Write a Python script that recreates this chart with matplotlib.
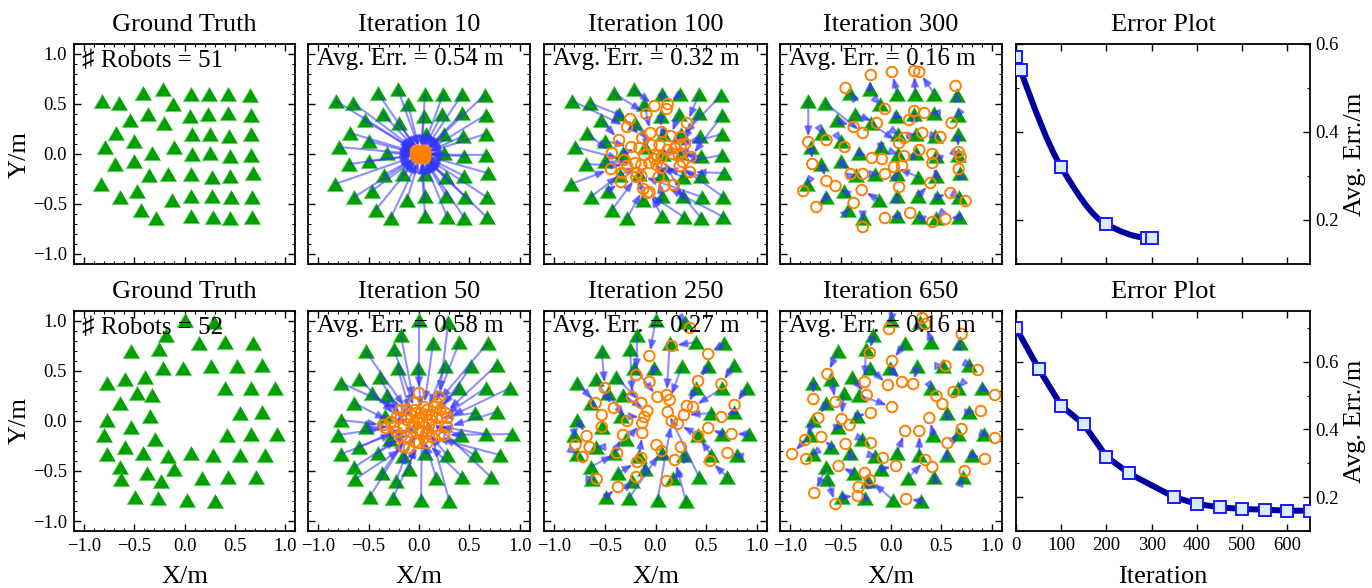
import numpy as np
import matplotlib
matplotlib.use("Agg")
import matplotlib.pyplot as plt
from matplotlib.path import Path
from matplotlib.patches import PathPatch, FancyArrowPatch
from matplotlib.ticker import MultipleLocator, FixedLocator

plt.rcParams['font.family'] = ['Liberation Serif', 'DejaVu Sans']
plt.rcParams['axes.unicode_minus'] = True

# ---------------- data ----------------
# scenario A: 51 robots, ground truth positions (m)
gt1_x = [-0.82, -0.65, -0.41, -0.21, -0.11, 0.06, 0.24, 0.43, 0.65,
         -0.54, -0.36, -0.20, 0.05, 0.23, 0.43, 0.66,
         -0.68, -0.50, 0.07, 0.25, 0.44, 0.66,
         -0.79, -0.32, -0.10, 0.07, 0.25, 0.45, 0.66,
         -0.69, -0.50, -0.35, -0.16, 0.06, 0.27, 0.45, 0.68,
         -0.83, -0.64, -0.47, -0.12, 0.06, 0.27, 0.46, 0.67,
         -0.43, -0.28, 0.06, 0.28, 0.45, 0.67]
gt1_y = [0.53, 0.51, 0.61, 0.65, 0.50, 0.60, 0.60, 0.60, 0.59,
         0.34, 0.40, 0.31, 0.38, 0.40, 0.41, 0.39,
         0.21, 0.13, 0.20, 0.20, 0.18, 0.20,
         0.07, 0.01, 0.07, 0.00, 0.01, -0.02, -0.01,
         -0.10, -0.07, -0.21, -0.20, -0.20, -0.23, -0.22, -0.19,
         -0.30, -0.43, -0.37, -0.46, -0.42, -0.42, -0.43, -0.43,
         -0.56, -0.64, -0.62, -0.63, -0.64, -0.63]

# estimates after 10 iterations
it10_x = [-0.03, -0.02, -0.01, 0.01, 0.01, 0.02, 0.03, 0.05, 0.06,
          -0.01, 0.00, 0.01, 0.02, 0.03, 0.05, 0.06,
          -0.02, -0.01, 0.02, 0.04, 0.05, 0.06,
          -0.03, 0.00, 0.01, 0.02, 0.04, 0.05, 0.06,
          -0.02, -0.01, 0.00, 0.01, 0.02, 0.04, 0.05, 0.06,
          -0.03, -0.02, -0.01, 0.01, 0.02, 0.04, 0.05, 0.06,
          -0.01, 0.00, 0.02, 0.04, 0.05, 0.06]
it10_y = [0.03, 0.03, 0.03, 0.03, 0.025, 0.03, 0.03, 0.03, 0.03,
          0.015, 0.02, 0.015, 0.02, 0.02, 0.02, 0.02,
          0.01, 0.00, 0.01, 0.01, 0.005, 0.01,
          0.00, -0.005, 0.00, -0.005, -0.005, -0.005, -0.005,
          -0.01, -0.01, -0.02, -0.02, -0.02, -0.02, -0.02, -0.015,
          -0.02, -0.03, -0.03, -0.03, -0.03, -0.03, -0.03, -0.03,
          -0.04, -0.04, -0.04, -0.04, -0.04, -0.04]

# estimates after 100 iterations
it100_x = [-0.28, -0.25, -0.09, -0.01, -0.05, 0.11, 0.12, 0.31, 0.25,
           -0.36, -0.13, -0.04, 0.06, 0.15, 0.25, 0.35,
           -0.43, -0.24, 0.04, 0.12, 0.19, 0.29,
           -0.31, -0.16, -0.11, 0.02, 0.17, 0.23, 0.27,
           -0.28, -0.20, -0.14, -0.06, -0.01, 0.01, 0.06, 0.34,
           -0.44, -0.33, -0.34, -0.18, 0.03, 0.06, -0.14, 0.24,
           -0.19, -0.12, -0.06, -0.08, 0.18, 0.09]
it100_y = [0.27, 0.35, 0.40, 0.48, 0.21, 0.45, 0.50, 0.31, 0.17,
           0.14, 0.16, 0.09, 0.22, 0.18, 0.09, -0.03,
           0.01, 0.07, 0.09, 0.04, 0.06, 0.10,
           -0.06, 0.06, -0.01, -0.02, 0.00, -0.01, -0.08,
           -0.12, -0.09, -0.11, -0.09, -0.05, -0.11, -0.14, -0.18,
           -0.15, -0.19, -0.28, -0.19, -0.23, -0.03, -0.22, -0.12,
           -0.23, -0.35, -0.38, -0.39, -0.31, -0.32]

# estimates after 300 iterations
it300_x = [-0.82, -0.28, -0.45, -0.20, -0.06, 0.01, 0.23, 0.28, 0.64,
           -0.37, -0.14, 0.08, 0.18, 0.23, 0.33, 0.60,
           -0.64, -0.46, 0.13, 0.31, 0.49, 0.67,
           -0.78, -0.19, -0.09, 0.13, 0.28, 0.41, 0.69,
           -0.64, -0.40, -0.28, -0.06, 0.11, 0.03, 0.41, 0.67,
           -0.87, -0.74, -0.55, -0.29, 0.08, 0.39, 0.59, 0.74,
           -0.37, -0.28, -0.06, 0.19, 0.41, 0.54]
it300_y = [0.12, 0.21, 0.66, 0.79, 0.45, 0.82, 0.83, 0.82, 0.68,
           0.27, 0.31, 0.11, 0.34, 0.43, 0.41, 0.31,
           0.14, 0.07, 0.16, 0.21, 0.17, 0.02,
           -0.10, -0.04, -0.05, -0.02, 0.04, 0.00, -0.03,
           -0.27, -0.20, -0.20, -0.20, -0.12, -0.13, -0.09, -0.15,
           -0.37, -0.53, -0.32, -0.36, -0.33, -0.29, -0.39, -0.47,
           -0.49, -0.73, -0.64, -0.59, -0.68, -0.65]

# scenario B: 52 robots, ground truth positions (m)
gt2_x = [0.00, 0.29, -0.18, 0.14, 0.40, 0.68, -0.53, -0.25,
         -0.21, -0.01, 0.26, 0.52, 0.77,
         -0.77, -0.59, -0.39, -0.47, -0.32, 0.40, 0.66, 0.90,
         -0.64, -0.34, 0.55, 0.77,
         -0.77, -0.53, -0.80, -0.29, 0.42, 0.66, 0.92,
         -0.59, -0.77, -0.41, -0.16, 0.06, 0.28, 0.55, 0.80,
         -0.64, -0.37, -0.10, -0.23, -0.63, 0.17, 0.43, 0.71,
         -0.49, -0.26, 0.02, 0.30]
gt2_y = [1.01, 0.99, 0.86, 0.78, 0.79, 0.78, 0.70, 0.72,
         0.53, 0.53, 0.55, 0.55, 0.56,
         0.38, 0.42, 0.44, 0.28, 0.26, 0.33, 0.33, 0.33,
         0.18, 0.05, 0.08, 0.09,
         0.01, -0.06, -0.14, -0.18, -0.14, -0.13, -0.13,
         -0.26, -0.33, -0.32, -0.35, -0.32, -0.34, -0.34, -0.34,
         -0.46, -0.52, -0.48, -0.60, -0.58, -0.57, -0.56, -0.56,
         -0.76, -0.77, -0.79, -0.80]

# estimates after 50 iterations
it50_x = [0.00, 0.20, -0.05, 0.05, 0.15, 0.18, -0.12, -0.04,
          -0.08, 0.02, 0.08, 0.21, 0.26,
          -0.18, -0.22, -0.18, -0.12, -0.02, 0.13, 0.23, 0.28,
          -0.28, -0.05, 0.18, 0.28,
          -0.35, -0.25, -0.33, -0.07, 0.10, 0.16, 0.25,
          -0.15, -0.22, -0.08, 0.00, 0.03, 0.08, 0.20, 0.13,
          -0.18, -0.12, -0.04, -0.10, -0.15, 0.05, 0.08, 0.12,
          0.00, 0.00, 0.03, 0.07]
it50_y = [0.28, 0.24, 0.18, 0.14, 0.14, 0.18, 0.11, 0.11,
          0.06, 0.08, 0.11, 0.11, 0.08,
          0.11, 0.04, 0.03, 0.01, 0.01, 0.06, 0.04, 0.03,
          -0.01, -0.02, 0.03, -0.06,
          -0.04, -0.06, -0.07, -0.06, -0.04, -0.05, -0.14,
          -0.06, -0.11, -0.11, -0.09, -0.11, -0.11, -0.14, -0.16,
          -0.16, -0.16, -0.21, -0.27, -0.26, -0.17, -0.22, 0.01,
          0.03, -0.22, -0.02, 0.06]

# estimates after 250 iterations
it250_x = [-0.06, 0.34, -0.19, 0.11, 0.16, 0.52, -0.50, -0.23,
           0.02, -0.06, 0.14, 0.42, 0.65,
           -0.59, -0.41, -0.14, -0.28, -0.08, 0.31, 0.37, 0.78,
           -0.53, -0.11, 0.28, 0.65,
           -0.68, -0.53, -0.79, -0.13, 0.22, 0.52, 0.75,
           -0.65, -0.72, -0.32, -0.13, 0.01, 0.25, 0.42, 0.71,
           -0.38, -0.18, -0.14, -0.19, -0.58, 0.11, 0.12, 0.54,
           -0.37, 0.06, 0.16, 0.19]
it250_y = [0.65, 0.93, 0.46, 0.26, 0.75, 0.67, 0.33, 0.24,
           0.24, 0.39, 0.21, 0.40, 0.37,
           0.18, 0.13, 0.18, 0.00, 0.10, 0.15, 0.14, 0.16,
           0.06, 0.04, 0.06, 0.04,
           -0.15, -0.06, -0.24, -0.02, -0.03, -0.07, -0.13,
           -0.26, -0.36, -0.14, -0.12, -0.24, -0.26, -0.15, -0.32,
           -0.32, -0.41, -0.37, -0.56, -0.58, -0.60, 0.09, -0.40,
           -0.66, -0.30, 0.00, -0.39]

# estimates after 650 iterations
it650_x = [-0.02, 0.31, -0.21, 0.01, 0.34, 0.70, -0.63, -0.26,
           -0.03, 0.11, 0.22, 0.54, 0.86,
           -0.77, -0.55, -0.24, -0.49, 0.01, 0.45, 0.62, 1.03,
           -0.72, -0.20, 0.51, 0.89,
           -0.85, -0.41, -0.98, -0.20, 0.38, 0.70, 1.03,
           -0.69, -0.84, -0.45, -0.08, 0.14, 0.28, 0.56, 0.93,
           -0.76, -0.52, 0.05, -0.26, -0.55, 0.34, 0.41, 0.73,
           -0.33, -0.32, -0.21, 0.15]
it650_y = [0.92, 1.03, 0.68, 0.60, 0.97, 0.87, 0.47, 0.39,
           0.36, 0.39, 0.37, 0.55, 0.51,
           0.22, 0.19, 0.26, 0.02, 0.14, 0.25, 0.29, 0.26,
           0.03, 0.08, 0.17, 0.10,
           -0.19, -0.04, -0.33, -0.22, 0.03, -0.08, -0.17,
           -0.16, -0.38, -0.23, -0.37, -0.10, -0.10, -0.22, -0.38,
           -0.72, -0.45, -0.45, -0.52, -0.83, -0.39, -0.46, -0.50,
           -0.75, -0.66, -0.59, -0.78]

# average localisation error versus iteration
err1_iter = [0, 10, 100, 200, 290, 300]
err1_val = [0.57, 0.54, 0.32, 0.19, 0.16, 0.16]
err2_iter = [0, 50, 100, 150, 200, 250, 350, 400, 450, 500, 550, 600, 650]
err2_val = [0.70, 0.58, 0.47, 0.415, 0.32, 0.27, 0.20, 0.18, 0.17, 0.165, 0.163, 0.16, 0.16]

scenarios = [
    dict(gx=gt1_x, gy=gt1_y, iters=[10, 100, 300],
         est=[(it10_x, it10_y), (it100_x, it100_y), (it300_x, it300_y)],
         err_iter=err1_iter, err_val=err1_val, ylim=(0.1, 0.6), smooth=True),
    dict(gx=gt2_x, gy=gt2_y, iters=[50, 250, 650],
         est=[(it50_x, it50_y), (it250_x, it250_y), (it650_x, it650_y)],
         err_iter=err2_iter, err_val=err2_val, ylim=(0.1, 0.75), smooth=False),
]

# ---------------- style ----------------
GREEN = '#00a000'
GREEN_EDGE = '#74d074'
ORANGE = '#ff8000'
ARROW = '#3535ff'
NAVY = '#00009a'
SQ_FACE = '#dcebff'
SQ_EDGE = '#1a1aff'
TRI = [(0.0, 0.433), (-0.5, -0.433), (0.5, -0.433)]

W, H = 1372, 588
fig = plt.figure(figsize=(W / 100, H / 100), dpi=100)

col_left = [74, 308, 544, 780]
col_width = [221, 222, 223, 222]
err_left, err_width = 1016, 294
row_top = [44, 311]
panel_h = 220


def add_ax(left, top, width, height):
    return fig.add_axes([left / W, 1 - (top + height) / H, width / W, height / H])


def frame(ax):
    for s in ax.spines.values():
        s.set_linewidth(1.3)
    ax.tick_params(which='both', direction='in', top=True, right=True,
                   bottom=True, left=True, labelsize=13.5, pad=5)
    ax.tick_params(which='major', length=5, width=1.0)
    ax.tick_params(which='minor', length=2.5, width=0.8)


def smooth_path(x, y):
    x = np.asarray(x, float)
    y = np.asarray(y, float)
    h = np.diff(x)
    d = np.diff(y) / h
    m = np.empty_like(y)
    m[0], m[-1] = d[0], d[-1]
    for i in range(1, len(y) - 1):
        if d[i - 1] * d[i] <= 0:
            m[i] = 0.0
        else:
            w1, w2 = 2 * h[i] + h[i - 1], h[i] + 2 * h[i - 1]
            m[i] = (w1 + w2) / (w1 / d[i - 1] + w2 / d[i])
    verts = [(x[0], y[0])]
    codes = [Path.MOVETO]
    for i in range(len(x) - 1):
        verts += [(x[i] + h[i] / 3, y[i] + m[i] * h[i] / 3),
                  (x[i + 1] - h[i] / 3, y[i + 1] - m[i + 1] * h[i] / 3),
                  (x[i + 1], y[i + 1])]
        codes += [Path.CURVE4] * 3
    return Path(verts, codes)


for r, sc in enumerate(scenarios):
    err_lookup = dict(zip(sc['err_iter'], sc['err_val']))
    titles = ['Ground Truth'] + [f'Iteration {it}' for it in sc['iters']]
    for c in range(4):
        ax = add_ax(col_left[c], row_top[r], col_width[c], panel_h)
        ax.set_xlim(-1.1, 1.1)
        ax.set_ylim(-1.1, 1.1)
        ax.xaxis.set_major_locator(MultipleLocator(0.5))
        ax.yaxis.set_major_locator(MultipleLocator(0.5))
        ax.xaxis.set_minor_locator(MultipleLocator(0.1))
        ax.yaxis.set_minor_locator(MultipleLocator(0.1))
        frame(ax)
        ax.tick_params(labelbottom=(r == 1), labelleft=(c == 0))
        ax.set_title(titles[c], fontsize=19, pad=9.4)

        ax.scatter(sc['gx'], sc['gy'], marker=TRI, s=12 ** 2, c=GREEN,
                   edgecolors=GREEN_EDGE, linewidths=0.6, zorder=2)
        if c == 0:
            ax.text(0.035, 0.897, f'\u266f Robots = {len(sc["gx"])}',
                    transform=ax.transAxes, fontsize=18, va='baseline',
                    ha='left', zorder=6)
        else:
            ex, ey = sc['est'][c - 1]
            for x0, y0, x1, y1 in zip(sc['gx'], sc['gy'], ex, ey):
                ax.add_patch(FancyArrowPatch(
                    (x0, y0), (x1, y1),
                    arrowstyle='-|>,head_length=0.55,head_width=0.22',
                    mutation_scale=10, lw=1.5, color=ARROW, alpha=0.55,
                    shrinkA=0, shrinkB=3.8, zorder=3))
            ax.scatter(ex, ey, s=7.6 ** 2, facecolors='none',
                       edgecolors=ORANGE, linewidths=1.4, zorder=4)
            val = err_lookup[sc['iters'][c - 1]]
            ax.text(0.039, 0.905, f'Avg. Err. = {val:.2f} m',
                    transform=ax.transAxes, fontsize=18, va='baseline',
                    ha='left', zorder=6)
        if c == 0:
            ax.set_ylabel('Y/m', fontsize=19)
            ax.yaxis.label.set_va('center')
            ax.yaxis.set_label_coords((20 - col_left[c]) / col_width[c], 0.5)
        if r == 1:
            ax.set_xlabel('X/m', fontsize=19)
            ax.xaxis.label.set_va('center')
            ax.xaxis.set_label_coords(0.5, -(577 - 531) / panel_h)

    # error curve
    ax = add_ax(err_left, row_top[r], err_width, panel_h)
    ax.set_xlim(0, 650)
    ax.set_ylim(*sc['ylim'])
    frame(ax)
    ax.xaxis.set_major_locator(MultipleLocator(100))
    ax.yaxis.set_major_locator(FixedLocator([0.2, 0.4, 0.6]))
    ax.yaxis.set_minor_locator(MultipleLocator(0.1))
    ax.tick_params(labelleft=False, labelright=True, labelbottom=(r == 1), pad=4)
    ax.set_title('Error Plot', fontsize=19, pad=9.4)
    if sc['smooth']:
        ax.add_patch(PathPatch(smooth_path(sc['err_iter'], sc['err_val']),
                               fill=False, lw=4.3, edgecolor=NAVY,
                               capstyle='round', joinstyle='round', zorder=2))
    else:
        ax.plot(sc['err_iter'], sc['err_val'], '-', lw=4.3, color=NAVY,
                solid_joinstyle='round', solid_capstyle='round', zorder=2)
    ax.plot(sc['err_iter'], sc['err_val'], 's', ms=8.5, mfc=SQ_FACE,
            mec=SQ_EDGE, mew=1.4, zorder=3)
    ax.yaxis.set_label_position('right')
    ax.set_ylabel('Avg. Err./m', fontsize=19, rotation=90)
    ax.yaxis.label.set_va('center')
    ax.yaxis.set_label_coords((1355 - err_left) / err_width, 0.5)
    if r == 1:
        ax.set_xlabel('Iteration', fontsize=19)
        ax.xaxis.label.set_va('center')
        ax.xaxis.set_label_coords(0.5, -(577 - 531) / panel_h)
        fig.canvas.draw()
        ax.get_xticklabels()[0].set_horizontalalignment('left')

fig.savefig('out.png', dpi=100)
